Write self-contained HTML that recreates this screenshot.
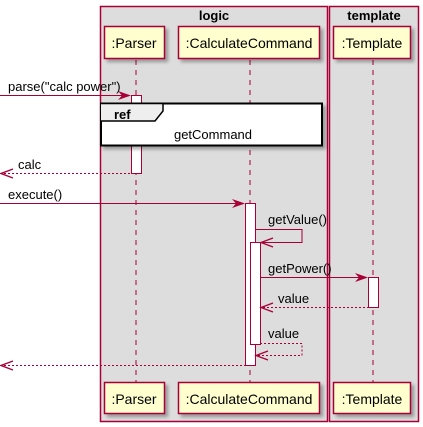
<!DOCTYPE html>
<html><head><style>body{margin:0;background:#fff}svg{display:block}text{font-family:"Liberation Sans",sans-serif;font-size:13px;fill:#000}</style></head><body>
<svg width="423" height="427" viewBox="0 0 423 427" xmlns="http://www.w3.org/2000/svg">
<defs>
<filter id="sh" x="-10%" y="-10%" width="130%" height="140%"><feDropShadow dx="3" dy="3" stdDeviation="1.5" flood-color="#000" flood-opacity="0.3"/></filter>
</defs>
<rect x="100.5" y="6.5" width="227" height="415" fill="#ddd" stroke="#A80036" stroke-width="1.5"/>
<rect x="329.5" y="6.5" width="89" height="415" fill="#ddd" stroke="#A80036" stroke-width="1.5"/>
<text x="214" y="20" text-anchor="middle" font-weight="bold">logic</text>
<text x="374" y="20" text-anchor="middle" font-weight="bold">template</text>
<g stroke="#A80036" stroke-dasharray="5,5" stroke-width="1">
<line x1="136" y1="60" x2="136" y2="382"/><line x1="250" y1="60" x2="250" y2="382"/><line x1="373" y1="60" x2="373" y2="382"/>
</g>
<g fill="#FEFECE" stroke="#A80036" stroke-width="1.5" filter="url(#sh)">
<rect x="104.5" y="26.5" width="60" height="32"/><rect x="178.5" y="26.5" width="141" height="32"/><rect x="333.5" y="26.5" width="77" height="32"/>
<rect x="104.5" y="382.5" width="60" height="31"/><rect x="178.5" y="382.5" width="141" height="31"/><rect x="333.5" y="382.5" width="77" height="31"/>
</g>
<g font-size="14"><text x="134" y="48" text-anchor="middle" style="font-size:14px">:Parser</text><text x="249" y="48" text-anchor="middle" style="font-size:14px">:CalculateCommand</text><text x="372" y="48" text-anchor="middle" style="font-size:14px">:Template</text>
<text x="134" y="404" text-anchor="middle" style="font-size:14px">:Parser</text><text x="249" y="404" text-anchor="middle" style="font-size:14px">:CalculateCommand</text><text x="372" y="404" text-anchor="middle" style="font-size:14px">:Template</text></g>
<g fill="#fff" stroke="#A80036" stroke-width="1">
<rect x="131.5" y="95.5" width="10" height="78"/>
<rect x="245.5" y="203.5" width="10" height="162"/>
<rect x="250.5" y="242.5" width="10" height="102"/>
<rect x="368.5" y="277.5" width="10" height="30"/>
</g>
<rect x="101" y="103.5" width="221" height="42" fill="#fff" stroke="#000" stroke-width="2" filter="url(#sh)"/>
<path d="M101 103.5 H163 V111 L155 121 H101" fill="#eee" stroke="#000" stroke-width="1.5"/>
<text x="114" y="119" font-weight="bold">ref</text>
<text x="213" y="139" text-anchor="middle">getCommand</text>
<g stroke="#A80036" fill="none" stroke-width="1">
<line x1="0" y1="95.5" x2="128" y2="95.5"/>
<line x1="4" y1="173.5" x2="131" y2="173.5" stroke-dasharray="2,2"/>
<line x1="0" y1="203.5" x2="242" y2="203.5"/>
<polyline points="255,229.5 302,229.5 302,242.5 263,242.5"/>
<line x1="260" y1="277.5" x2="365" y2="277.5"/>
<line x1="263" y1="307.5" x2="368" y2="307.5" stroke-dasharray="2,2"/>
<polyline points="260,343.5 302,343.5 302,355.5 258,355.5" stroke-dasharray="2,2"/>
<line x1="4" y1="365.5" x2="245" y2="365.5" stroke-dasharray="2,2"/>
</g>
<g fill="#A80036">
<path d="M131 95.5 L118 91 L122 95.5 L118 100Z"/>
<path d="M245 203.5 L232 199 L236 203.5 L232 208Z"/>
<path d="M368 277.5 L355 273 L359 277.5 L355 282Z"/>
</g>
<g stroke="#A80036" fill="none" stroke-width="1.3">
<polyline points="13,169 1,173.5 13,178"/>
<polyline points="273,238 261,242.5 273,247"/>
<polyline points="273,303 261,307.5 273,312"/>
<polyline points="268,351 256,355.5 268,360"/>
<polyline points="13,361 1,365.5 13,370"/>
</g>
<text x="8" y="91">parse("calc power")</text>
<text x="18" y="169">calc</text>
<text x="8" y="199">execute()</text>
<text x="268" y="224">getValue()</text>
<text x="268" y="273">getPower()</text>
<text x="278" y="303">value</text>
<text x="268" y="338">value</text>
</svg>
</body></html>
